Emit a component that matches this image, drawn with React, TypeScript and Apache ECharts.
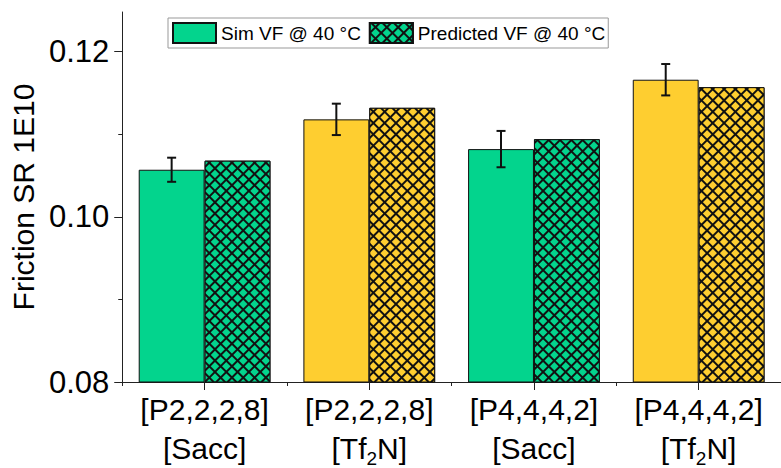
import React, { useEffect, useRef } from "react";
import * as echarts from "echarts";

const categories = [
  "[P2,2,2,8]\n[Sacc]",
  "[P2,2,2,8]\n[Tf{sub|2}N]",
  "[P4,4,4,2]\n[Sacc]",
  "[P4,4,4,2]\n[Tf{sub|2}N]",
];
const simValues = [0.1057, 0.1118, 0.1082, 0.1166];
const simErrors = [0.00146, 0.0019, 0.0022, 0.0019];
const predValues = [0.1068, 0.1132, 0.1094, 0.1157];
const yMajorTicks = [0.08, 0.1, 0.12];
const yMinorTicks = [0.09, 0.11];

const GREEN = "#03D48D";
const YELLOW = "#FECE30";
const groupColors = [GREEN, YELLOW, GREEN, YELLOW];
const FONT = "'Liberation Sans', Arial, sans-serif";

const hatch = (c: string) => ({
  symbol: "rect",
  symbolSize: 1,
  color: c,
  dashArrayX: [6, 2],
  dashArrayY: [6, 2],
  rotation: Math.PI / 4,
});

export default function App() {
  const ref = useRef<HTMLDivElement>(null);
  useEffect(() => {
    if (!ref.current) return;
    const chart = echarts.init(ref.current, undefined, { renderer: "svg" });
    const yMin = 0.08;
    const yMax = 0.1248;
    chart.setOption({
      animation: false,
      grid: { left: 121, right: -11, top: 12, bottom: 83, containLabel: false },
      legend: {
        data: ["Sim VF @ 40 °C", "Predicted VF @ 40 °C"],
        left: 168,
        top: 18,
        padding: [4, 3, 4, 4],
        itemWidth: 43,
        itemHeight: 20,
        itemGap: 8,
        borderColor: "#999",
        borderWidth: 1,
        icon: "rect",
        textStyle: { fontSize: 19, color: "#000", fontFamily: FONT },
      },
      xAxis: [
        {
          type: "category",
          data: categories,
          position: "bottom",
          axisLine: { show: true, lineStyle: { color: "#222", width: 1 } },
          axisTick: { show: true, alignWithLabel: true, length: 8, lineStyle: { color: "#222" } },
          axisLabel: {
            margin: 8,
            fontSize: 30,
            lineHeight: 39,
            color: "#000",
            fontFamily: FONT,
            interval: 0,
            rich: {
              sub: { fontSize: 19, verticalAlign: "bottom", lineHeight: 39, color: "#000", fontFamily: FONT },
            },
          },
          splitLine: { show: false },
        },
        {
          type: "category",
          data: categories,
          position: "bottom",
          axisLine: { show: false },
          axisTick: { show: true, alignWithLabel: false, length: 4, lineStyle: { color: "#222" } },
          axisLabel: { show: false },
          splitLine: { show: false },
        },
      ],
      yAxis: [
        {
          type: "value",
          min: yMin,
          max: yMax,
          position: "left",
          name: "Friction SR 1E10",
          nameLocation: "middle",
          nameGap: 82,
          nameTextStyle: { fontSize: 30, color: "#000", fontFamily: FONT },
          axisLine: { show: true, lineStyle: { color: "#222", width: 1 } },
          axisTick: { show: true, length: 8, customValues: yMajorTicks, lineStyle: { color: "#222" } },
          axisLabel: {
            customValues: yMajorTicks,
            margin: 13,
            fontSize: 31,
            color: "#000",
            fontFamily: FONT,
            formatter: (v: number) => v.toFixed(2),
          },
          splitLine: { show: false },
        },
        {
          type: "value",
          min: yMin,
          max: yMax,
          position: "left",
          axisLine: { show: false },
          axisTick: { show: true, length: 4, customValues: yMinorTicks, lineStyle: { color: "#222" } },
          axisLabel: { show: false },
          splitLine: { show: false },
        },
      ],
      series: [
        {
          name: "Sim VF @ 40 °C",
          type: "bar",
          barWidth: "40%",
          barGap: "0%",
          itemStyle: { color: GREEN, borderColor: "#111", borderWidth: 1 },
          data: simValues.map((v, i) => ({ value: v, itemStyle: { color: groupColors[i] } })),
        },
        {
          name: "Predicted VF @ 40 °C",
          type: "bar",
          barWidth: "40%",
          barGap: "0%",
          itemStyle: { color: "#111", borderColor: "#111", borderWidth: 1, decal: hatch(GREEN) },
          data: predValues.map((v, i) => ({
            value: v,
            itemStyle: { color: "#111", decal: hatch(groupColors[i]) },
          })),
        },
        {
          type: "custom",
          z: 10,
          data: simValues.map((v, i) => [i, v, simErrors[i]]),
          encode: { x: 0, y: 1 },
          renderItem: (params: any, api: any) => {
            const idx = api.value(0);
            const v = api.value(1);
            const e = api.value(2);
            const band = api.size([1, 0])[0];
            const cx = api.coord([idx, v])[0] - band * 0.2;
            const yt = api.coord([idx, v + e])[1];
            const yb = api.coord([idx, v - e])[1];
            const st = { stroke: "#111", lineWidth: 2 };
            return {
              type: "group",
              children: [
                { type: "line", shape: { x1: cx, y1: yt, x2: cx, y2: yb }, style: st },
                { type: "line", shape: { x1: cx - 4.5, y1: yt, x2: cx + 4.5, y2: yt }, style: st },
                { type: "line", shape: { x1: cx - 4.5, y1: yb, x2: cx + 4.5, y2: yb }, style: st },
              ],
            };
          },
        },
      ],
    });
    return () => chart.dispose();
  }, []);
  return (
    <div
      ref={ref}
      style={{ position: "fixed", left: 0, top: 0, width: 781, height: 468, background: "#fff" }}
    />
  );
}
